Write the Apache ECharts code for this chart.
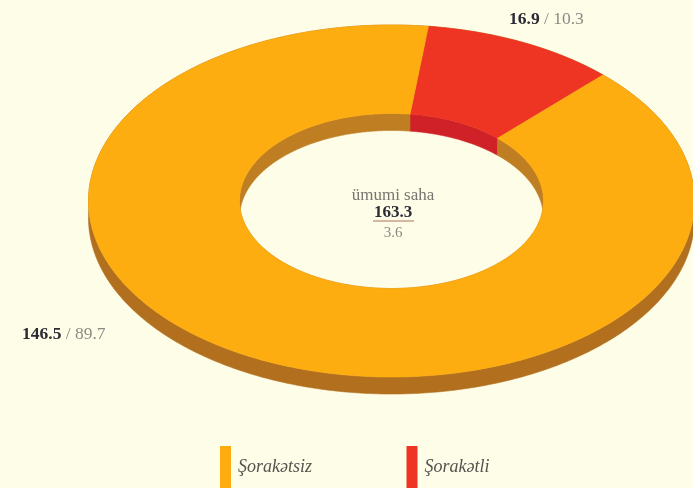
<!DOCTYPE html>
<html><head><meta charset="utf-8">
<script src="https://cdn.jsdelivr.net/npm/echarts@6/dist/echarts.min.js"></script>
<style>html,body{margin:0;padding:0;background:#fdfde8}#c{width:693px;height:488px}</style>
</head><body><div id="c"></div>
<script>
const categories = ['Şorakətli', 'Şorakətsiz'];
const areaValues = [16.9, 146.5];
const shareValues = ['10.3', '89.7'];
const totalLabel = 'ümumi saha';
const totalValue = '163.3';
const totalShare = '3.6';

const faceColors = ['#ee3524', '#fdad10'];
const innerWallColors = ['#cf2127', '#c07e22'];
const outerWallColor = '#b2701f';
const bg = '#fdfde8';

const cx = 391.5, cy = 201, rxO = 303, ryO = 176, rxI = 152, ryI = 87.5, depth = 17, startDeg = 7;
const total = areaValues.reduce((a, b) => a + b, 0);

function arc(rx, ry, a0, a1, dy) {
  const pts = [], n = Math.max(2, Math.ceil(Math.abs(a1 - a0) * 1.5));
  for (let i = 0; i <= n; i++) {
    const t = (a0 + (a1 - a0) * i / n) * Math.PI / 180;
    pts.push([cx + rx * Math.sin(t), cy - ry * Math.cos(t) + dy]);
  }
  return pts;
}
function poly(points, color, z2) {
  return { type: 'polygon', z2, shape: { points }, style: { fill: color, stroke: color, lineWidth: 0.6 } };
}
function sliceSeries(i) {
  const before = areaValues.slice(0, i).reduce((a, b) => a + b, 0);
  return {
    type: 'custom', name: categories[i], coordinateSystem: 'none',
    itemStyle: { color: faceColors[i] }, silent: true, animation: false,
    data: [[areaValues[i]]],
    renderItem(params, api) {
      const a0 = startDeg + before / total * 360;
      const a1 = a0 + api.value(0) / total * 360;
      const outerTop = arc(rxO, ryO, a0, a1, 0), innerTop = arc(rxI, ryI, a0, a1, 0);
      return { type: 'group', children: [
        poly(outerTop.concat(arc(rxO, ryO, a0, a1, depth).reverse()), outerWallColor, 1),
        poly(innerTop.concat(arc(rxI, ryI, a0, a1, depth).reverse()), innerWallColors[i], 1),
        poly(outerTop.concat(innerTop.slice().reverse()), faceColors[i], 2)
      ] };
    }
  };
}
function legendAt(i, left, padTop) {
  return { left, top: 446, orient: 'horizontal', data: [categories[i]], icon: 'rect', itemWidth: 11, itemHeight: 42, itemGap: 0,
    padding: 0, selectedMode: false,
    textStyle: { fontFamily: 'Liberation Serif', fontStyle: 'italic', fontSize: 18, color: '#55534f', padding: [padTop, 0, 0, 2] } };
}
const rich = {
  b: { fontFamily: 'Liberation Serif', fontWeight: 'bold', fontSize: 17.5, fill: '#2d2a35' },
  g: { fontFamily: 'Liberation Serif', fontSize: 17.5, fill: '#8b8b85' }
};
function valueLabel(i, x, y) {
  return { type: 'text', x, y, silent: true,
    style: { text: `{b|${areaValues[i]}}{g| / ${shareValues[i]}}`, rich, verticalAlign: 'middle' } };
}
function centerText(text, y, font, fill) {
  return { type: 'text', x: 393, y, silent: true,
    style: { text, font, fill, align: 'center', verticalAlign: 'middle' } };
}
const chart = echarts.init(document.getElementById('c'), null, { renderer: 'canvas' });
chart.setOption({
  backgroundColor: bg,
  animation: false,
  legend: [legendAt(1, 220, 10), legendAt(0, 406.5, 3)],
  series: categories.map((_, i) => sliceSeries(i)),
  graphic: [
    valueLabel(0, 509, 19),
    valueLabel(1, 22, 334),
    centerText(totalLabel, 196, '17px "Liberation Serif"', '#77756f'),
    centerText(totalValue, 213, 'bold 17px "Liberation Serif"', '#2d2a35'),
    { type: 'line', silent: true, shape: { x1: 373, y1: 221, x2: 414, y2: 221 }, style: { stroke: '#b0705a', lineWidth: 1 } },
    centerText(totalShare, 233, '15px "Liberation Serif"', '#8b8b85')
  ]
});
</script></body></html>
